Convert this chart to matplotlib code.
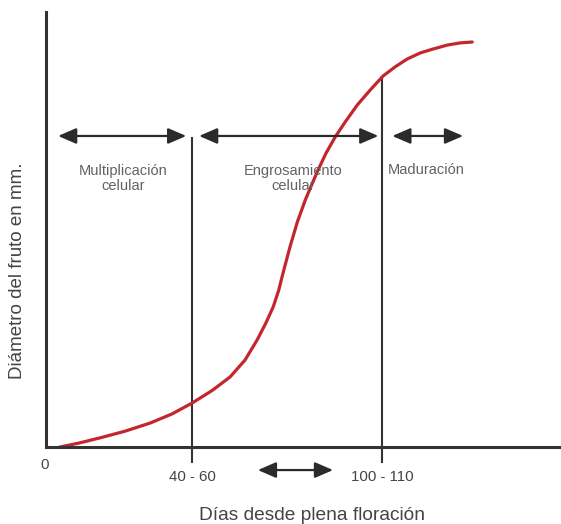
import matplotlib
matplotlib.use("Agg")
from matplotlib import pyplot as plt

plt.rcParams["font.family"] = ["Liberation Sans", "DejaVu Sans"]

# curve (arbitrary units: days on x, diameter on y)
days = [3.8, 9.0, 14.8, 21.5, 28.5, 34.5, 40.0, 45.5, 50.4, 54.5, 57.8, 60.2,
        62.2, 63.7, 64.9, 66.8, 68.8, 71.0, 72.8, 74.5, 76.7, 79.2, 81.9,
        85.2, 88.8, 92.3, 95.6, 98.9, 102.5, 106.0, 109.9, 113.4, 116.7]
diam = [0.0, 0.9, 2.1, 3.6, 5.5, 7.6, 10.1, 13.0, 16.1, 20.0, 24.6, 28.5,
        32.2, 36.0, 40.0, 46.0, 51.7, 56.8, 60.4, 63.7, 67.6, 71.3, 74.7,
        78.6, 82.1, 85.3, 87.4, 89.2, 90.6, 91.5, 92.4, 92.9, 93.1]

bounds = [40, 92]
bound_tops = [71, 85]
bound_labels = ["40 - 60", "100 - 110"]

phases = ["Multiplicación\ncelular", "Engrosamiento\ncelular", "Maduración"]
phase_arrows = [(3.3, 38.4), (41.9, 91.0), (94.8, 114.2)]

DARK = "#2b2b2b"
GREY = "#626262"

fig = plt.figure(figsize=(5.61, 5.24), dpi=100)
ax = fig.add_axes([46 / 561, 77 / 524, 515 / 561, 435 / 524])
ax.set_xlim(0, 141)
ax.set_ylim(0, 100)

for side in ["top", "right"]:
    ax.spines[side].set_visible(False)
for side in ["left", "bottom"]:
    ax.spines[side].set_linewidth(2.2)
    ax.spines[side].set_color("#333333")
ax.set_xticks([])
ax.set_yticks([])

# phase boundaries, running a little below the axis
for x, top, label in zip(bounds, bound_tops, bound_labels):
    ax.plot([x, x], [-3.4, top], color="#333333", lw=1.5, clip_on=False)
    ax.text(x, -7, label, ha="center", va="center", fontsize=10.8,
            color="#444444", clip_on=False)
ax.text(-0.5, -4.2, "0", ha="center", va="center", fontsize=10.8,
        color="#444444", clip_on=False)

ax.plot(days, diam, color="#c4262e", lw=2.3, solid_capstyle="round",
        solid_joinstyle="round")

arrow_style = "<|-|>,head_length=0.65,head_width=0.28"
for x1, x2 in phase_arrows:
    ax.annotate("", xy=(x2, 71.5), xytext=(x1, 71.5),
                arrowprops=dict(arrowstyle=arrow_style, mutation_scale=17,
                                lw=1.6, color=DARK, shrinkA=0, shrinkB=0))
ax.annotate("", xy=(78.6, -5.3), xytext=(58.0, -5.3),
            annotation_clip=False,
            arrowprops=dict(arrowstyle=arrow_style, mutation_scale=17,
                            lw=1.6, color=DARK, shrinkA=0, shrinkB=0))

ax.text(21, 61.8, phases[0], ha="center", va="center", fontsize=10.5,
        color=GREY, linespacing=1.1)
ax.text(67.7, 61.8, phases[1], ha="center", va="center", fontsize=10.5,
        color=GREY, linespacing=1.1)
ax.text(93.7, 63.6, phases[2], ha="left", va="center", fontsize=10.5,
        color=GREY)

fig.text(312 / 561, 1 - 516 / 524, "Días desde plena floración",
         ha="center", va="center", fontsize=13.8, color="#444444")
fig.text(18 / 561, 1 - 271 / 524, "Diámetro del fruto en mm.",
         ha="center", va="center", rotation=90, fontsize=13.5,
         color="#444444")

fig.savefig("out.png", dpi=100, facecolor="white")
